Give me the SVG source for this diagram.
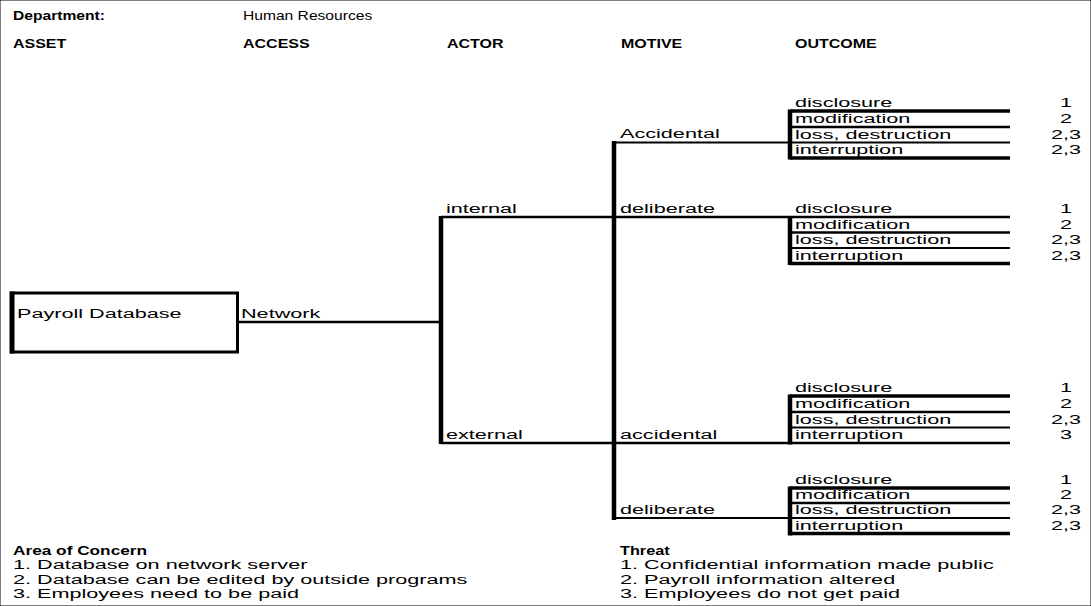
<svg xmlns="http://www.w3.org/2000/svg" width="1091" height="606" viewBox="0 0 1091 606">
<style>
text{font-family:"Liberation Sans",Arial,sans-serif;font-size:12.5px;fill:#000}
.b{font-weight:bold}
.n{text-anchor:middle}
line,rect{stroke:#000;fill:none}
.thin{stroke-width:2}
.mid{stroke-width:2.5}
.thk{stroke-width:3.5}
.vert{stroke-width:4.5}
</style>
<rect width="1091" height="606" fill="#fff" stroke="none"/>
<g id="header">
<text class="b" transform="translate(13 20) scale(1.25 1)">Department:</text>
<text transform="translate(243 20) scale(1.25 1)">Human Resources</text>
<text class="b" transform="translate(13 48) scale(1.28 1)">ASSET</text>
<text class="b" transform="translate(243 48) scale(1.28 1)">ACCESS</text>
<text class="b" transform="translate(447 48) scale(1.28 1)">ACTOR</text>
<text class="b" transform="translate(621 48) scale(1.28 1)">MOTIVE</text>
<text class="b" transform="translate(795 48) scale(1.28 1)">OUTCOME</text>
</g>
<g id="connectors">
<line class="mid" x1="238" y1="322" x2="441" y2="322"/>
<line class="vert" x1="441" y1="216" x2="441" y2="444"/>
<line class="mid" x1="441" y1="217" x2="1010" y2="217"/>
<line class="mid" x1="441" y1="443" x2="1010" y2="443"/>
<line class="vert" x1="614" y1="141" x2="614" y2="520"/>
<line class="thin" x1="614" y1="142.5" x2="790" y2="142.5"/>
<line class="thin" x1="614" y1="518" x2="790" y2="518"/>
</g>
<g id="asset">
<rect x="11.5" y="293" width="226" height="59" stroke-width="3"/>
<line x1="12" y1="291.5" x2="12" y2="353.5" stroke-width="5"/>
<text transform="translate(17 318) scale(1.73 1)">Payroll Database</text>
</g>
<g id="access"><text transform="translate(241 318) scale(1.73 1)">Network</text></g>
<g id="actor-internal"><text transform="translate(446 213) scale(1.73 1)">internal</text></g>
<g id="actor-external"><text transform="translate(446 439) scale(1.73 1)">external</text></g>
<g id="motive-internal-accidental"><text transform="translate(620 138) scale(1.73 1)">Accidental</text></g>
<g id="motive-internal-deliberate"><text transform="translate(620 213) scale(1.73 1)">deliberate</text></g>
<g id="motive-external-accidental"><text transform="translate(620 439) scale(1.73 1)">accidental</text></g>
<g id="motive-external-deliberate"><text transform="translate(620 514) scale(1.73 1)">deliberate</text></g>
<g id="outcome-1">
<line class="vert" x1="790" y1="109.5" x2="790" y2="159.5"/>
<line class="thk" x1="790" y1="111" x2="1010" y2="111"/>
<line class="mid" x1="790" y1="127" x2="1010" y2="127"/>
<line class="thin" x1="790" y1="142.5" x2="1010" y2="142.5"/>
<line class="thk" x1="790" y1="158" x2="1010" y2="158"/>
<text transform="translate(795 107) scale(1.73 1)">disclosure</text>
<text transform="translate(795 123) scale(1.73 1)">modification</text>
<text transform="translate(795 138.5) scale(1.73 1)">loss, destruction</text>
<text transform="translate(795 154) scale(1.73 1)">interruption</text>
<text class="n" transform="translate(1066 107) scale(1.73 1)">1</text>
<text class="n" transform="translate(1066 123) scale(1.73 1)">2</text>
<text class="n" transform="translate(1066 138.5) scale(1.73 1)">2,3</text>
<text class="n" transform="translate(1066 154) scale(1.73 1)">2,3</text>
</g>
<g id="outcome-2">
<line class="vert" x1="790" y1="216" x2="790" y2="265"/>
<line class="mid" x1="790" y1="232.5" x2="1010" y2="232.5"/>
<line class="thin" x1="790" y1="248" x2="1010" y2="248"/>
<line class="thk" x1="790" y1="263.5" x2="1010" y2="263.5"/>
<text transform="translate(795 213) scale(1.73 1)">disclosure</text>
<text transform="translate(795 228.5) scale(1.73 1)">modification</text>
<text transform="translate(795 244) scale(1.73 1)">loss, destruction</text>
<text transform="translate(795 259.5) scale(1.73 1)">interruption</text>
<text class="n" transform="translate(1066 213) scale(1.73 1)">1</text>
<text class="n" transform="translate(1066 228.5) scale(1.73 1)">2</text>
<text class="n" transform="translate(1066 244) scale(1.73 1)">2,3</text>
<text class="n" transform="translate(1066 259.5) scale(1.73 1)">2,3</text>
</g>
<g id="outcome-3">
<line class="vert" x1="790" y1="394.5" x2="790" y2="444.5"/>
<line class="thk" x1="790" y1="396" x2="1010" y2="396"/>
<line class="mid" x1="790" y1="412" x2="1010" y2="412"/>
<line class="thin" x1="790" y1="427.5" x2="1010" y2="427.5"/>
<text transform="translate(795 392) scale(1.73 1)">disclosure</text>
<text transform="translate(795 408) scale(1.73 1)">modification</text>
<text transform="translate(795 423.5) scale(1.73 1)">loss, destruction</text>
<text transform="translate(795 439) scale(1.73 1)">interruption</text>
<text class="n" transform="translate(1066 392) scale(1.73 1)">1</text>
<text class="n" transform="translate(1066 408) scale(1.73 1)">2</text>
<text class="n" transform="translate(1066 423.5) scale(1.73 1)">2,3</text>
<text class="n" transform="translate(1066 439) scale(1.73 1)">3</text>
</g>
<g id="outcome-4">
<line class="vert" x1="790" y1="486.5" x2="790" y2="535.5"/>
<line class="thk" x1="790" y1="488" x2="1010" y2="488"/>
<line class="mid" x1="790" y1="503" x2="1010" y2="503"/>
<line class="thin" x1="790" y1="518" x2="1010" y2="518"/>
<line class="thk" x1="790" y1="533.5" x2="1010" y2="533.5"/>
<text transform="translate(795 484) scale(1.73 1)">disclosure</text>
<text transform="translate(795 499) scale(1.73 1)">modification</text>
<text transform="translate(795 514) scale(1.73 1)">loss, destruction</text>
<text transform="translate(795 529.5) scale(1.73 1)">interruption</text>
<text class="n" transform="translate(1066 484) scale(1.73 1)">1</text>
<text class="n" transform="translate(1066 499) scale(1.73 1)">2</text>
<text class="n" transform="translate(1066 514) scale(1.73 1)">2,3</text>
<text class="n" transform="translate(1066 529.5) scale(1.73 1)">2,3</text>
</g>
<g id="area-of-concern">
<text class="b" transform="translate(13 555) scale(1.38 1)">Area of Concern</text>
<text transform="translate(13 569) scale(1.73 1)">1. Database on network server</text>
<text transform="translate(13 584) scale(1.73 1)">2. Database can be edited by outside programs</text>
<text transform="translate(13 598) scale(1.73 1)">3. Employees need to be paid</text>
</g>
<g id="threat">
<text class="b" transform="translate(620 555) scale(1.3 1)">Threat</text>
<text transform="translate(620 569) scale(1.73 1)">1. Confidential information made public</text>
<text transform="translate(620 584) scale(1.73 1)">2. Payroll information altered</text>
<text transform="translate(620 598) scale(1.73 1)">3. Employees do not get paid</text>
</g>
</svg>
